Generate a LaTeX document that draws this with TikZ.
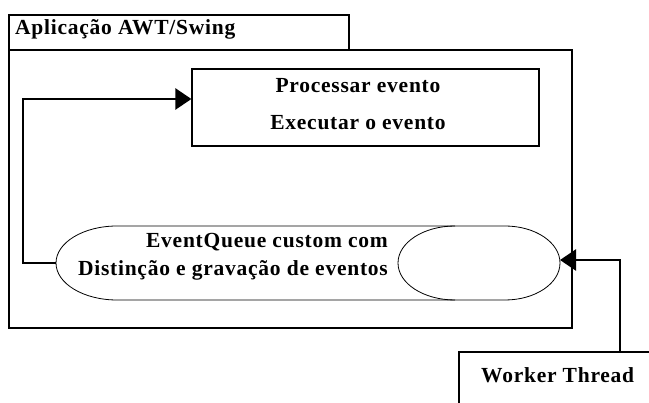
\documentclass[tikz,border=0pt]{standalone}
\usepackage{fontspec}
\setmainfont{Liberation Serif}[LetterSpace=3.5]
\usetikzlibrary{arrows.meta}
\begin{document}
\begin{tikzpicture}[x=1pt,y=-1pt,
  frame/.style={draw=black, line width=1.4pt},
  procbox/.style={draw=black, line width=1.2pt, inner sep=0pt},
  queueline/.style={draw=black, line width=0.8pt},
  label/.style={inner sep=0pt, font=\fontsize{21.5}{24}\selectfont\bfseries},
  flow/.style={draw=black, line width=2.6pt, -{Triangle[length=16pt,width=21pt]}},
]
\useasboundingbox (0,0) rectangle (649,403);
\fill[white] (0,0) rectangle (649,403);

% application frame with its title tab
\draw[frame] (9,15) rectangle (349,50);
\node[label, anchor=mid west] (title) at (15,32) {Aplicação AWT/Swing};
\draw[frame] (9,50) rectangle (572,328);

% event processing box
\node[procbox, minimum width=347pt, minimum height=77pt] (proc) at (365.5,107.5) {};
\node[label, anchor=mid] (proc1) at (358,90) {Processar evento};
\node[label, anchor=mid] (proc2) at (358,127) {Executar o evento};

% custom event queue drawn as a lying cylinder
\draw[queueline] (117,226) -- (505,226)
  arc[start angle=90, end angle=-90, x radius=55pt, y radius=37pt]
  -- (117,300)
  arc[start angle=270, end angle=90, x radius=61pt, y radius=37pt] -- cycle;
\draw[queueline] (455,226)
  arc[start angle=90, end angle=270, x radius=57pt, y radius=37pt];
\coordinate (qleft) at (56,263);
\coordinate (qright) at (560,260);
\node[label, anchor=mid east] (q1) at (388,245) {EventQueue custom com};
\node[label, anchor=mid east] (q2) at (388,273) {Distinção e gravação de eventos};

% worker thread box, running past the page edge
\begin{scope}
  \clip (0,0) rectangle (649,403);
  \draw[frame] (459,352) rectangle (680,420);
\end{scope}
\coordinate (worker) at (620,352);
\node[label, anchor=mid west] (wt) at (481,380) {Worker Thread};

% connectors
\draw[flow] (qleft) -- (23,263) -- (23,99) -- (proc.west |- 0,99);
\draw[flow] (worker) -- (620,260) -- (qright);
\end{tikzpicture}
\end{document}
